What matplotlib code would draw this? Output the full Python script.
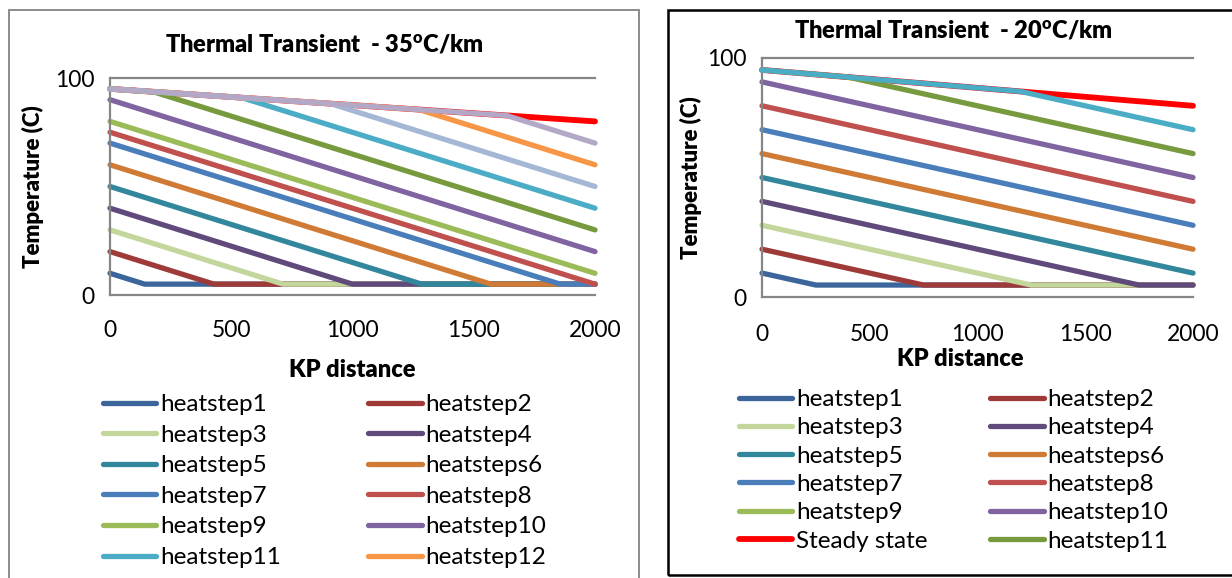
import matplotlib
matplotlib.use("Agg")
import matplotlib.pyplot as plt
from matplotlib.patches import Rectangle

plt.rcParams['font.family'] = ['Lato', 'DejaVu Sans']
plt.rcParams['mathtext.fontset'] = 'custom'
plt.rcParams['mathtext.rm'] = 'Lato'
plt.rcParams['mathtext.bf'] = 'Lato:heavy'

# ---------------- 35 C/km gradient ----------------
labels_35 = ["heatstep1", "heatstep2", "heatstep3", "heatstep4", "heatstep5",
             "heatsteps6", "heatstep7", "heatstep8", "heatstep9", "heatstep10",
             "heatstep11", "heatstep12"]
kp_35 = [[0, 143, 2000], [0, 429, 2000], [0, 714, 2000], [0, 1000, 2000],
         [0, 1286, 2000], [0, 1571, 2000], [0, 1857, 2000], [0, 2000],
         [0, 2000], [0, 2000], [0, 545, 2000], [0, 1273, 2000]]
temp_35 = [[10, 5, 5], [20, 5, 5], [30, 5, 5], [40, 5, 5],
           [50, 5, 5], [60, 5, 5], [70, 5, 5], [75, 5],
           [80, 10], [90, 20], [95, 90.9, 40], [95, 85.5, 60]]
# further steps not listed in the key
extra_kp_35 = [[0, 180, 2000], [0, 909, 2000], [0, 1636, 2000]]
extra_temp_35 = [[95, 93.6, 30], [95, 88.2, 50], [95, 82.7, 70]]
steady_kp_35 = [0, 2000]
steady_temp_35 = [95, 80]

# ---------------- 20 C/km gradient ----------------
labels_20 = ["heatstep1", "heatstep2", "heatstep3", "heatstep4", "heatstep5",
             "heatsteps6", "heatstep7", "heatstep8", "heatstep9", "heatstep10",
             "Steady state", "heatstep11"]
kp_20 = [[0, 250, 2000], [0, 750, 2000], [0, 1250, 2000], [0, 1750, 2000],
         [0, 2000], [0, 2000], [0, 2000], [0, 2000],
         [], [0, 2000], [0, 2000], [0, 400, 2000]]
temp_20 = [[10, 5, 5], [20, 5, 5], [30, 5, 5], [40, 5, 5],
           [50, 10], [60, 20], [70, 30], [80, 40],
           [], [90, 50], [95, 80], [95, 92, 60]]
extra_kp_20 = [[0, 1200, 2000]]
extra_temp_20 = [[95, 86, 70]]

x_ticks = [0, 500, 1000, 1500, 2000]
y_ticks = [0, 100]

# colours
C_HS = ["#3B659B", "#9E3B39", "#C3D69B", "#604A7B", "#33879C",
        "#D07B35", "#4A7EBB", "#C0504D", "#9BBB59", "#8064A2",
        "#4BACC6", "#F79646"]
C_OLIVE = "#779A3E"
C_GREYBLUE = "#A4B7D5"
C_LAVENDER = "#B3A8C6"
C_STEADY = "#FF0000"
GRID = "#868686"

LW = 3.8
W, H = 1232, 578
fig = plt.figure(figsize=(W / 100, H / 100), dpi=100)


def frac(x0, y0, x1, y1):
    return [x0 / W, 1 - y1 / H, (x1 - x0) / W, (y1 - y0) / H]


def style_axes(ax, xpad, ypad):
    ax.set_xlim(0, 2000)
    ax.set_ylim(0, 100)
    ax.set_xticks(x_ticks)
    ax.set_yticks(y_ticks)
    for s in ("right", "top"):
        ax.spines[s].set_visible(False)
    for s in ("left", "bottom"):
        ax.spines[s].set_color(GRID)
        ax.spines[s].set_linewidth(1.6)
    ax.axhline(100, color=GRID, lw=1.6, zorder=0.5, clip_on=False)
    ax.tick_params(axis="both", length=0, labelsize=16.5)
    ax.tick_params(axis="x", pad=xpad)
    ax.tick_params(axis="y", pad=ypad)


def line(ax, x, y, c, z=2, lw=LW):
    return ax.plot(x, y, color=c, lw=lw, solid_capstyle="round",
                   solid_joinstyle="round", zorder=z, clip_on=False)[0]


def key(handles, labels, ax, anchor, spacing, colspacing):
    order = [0, 2, 4, 6, 8, 10, 1, 3, 5, 7, 9, 11]
    ax.legend([handles[i] for i in order], [labels[i] for i in order],
              ncol=2, loc="upper left", bbox_to_anchor=anchor,
              bbox_transform=fig.transFigure, frameon=False, borderpad=0,
              fontsize=17.5, handlelength=2.2, handletextpad=0.15,
              labelspacing=spacing, columnspacing=colspacing,
              borderaxespad=0)


# ---------- left chart ----------
axL = fig.add_axes(frac(110, 78, 595, 295))
style_axes(axL, 18, 11)
line(axL, steady_kp_35, steady_temp_35, C_STEADY, z=1.5, lw=LW + 0.4)
hL = []
for i in range(len(labels_35)):
    hL.append(line(axL, kp_35[i], temp_35[i], C_HS[i], z=2 + i * 0.01))
for j, c in enumerate([C_OLIVE, C_GREYBLUE, C_LAVENDER]):
    line(axL, extra_kp_35[j], extra_temp_35[j], c, z=3 + j * 0.01)
axL.set_ylabel("Temperature (C)", fontsize=16, fontweight="heavy")
axL.yaxis.set_label_coords(-0.137, 0.5)
axL.set_xlabel("KP distance", fontsize=17, fontweight="heavy")
axL.xaxis.set_label_coords(0.5, -0.295)
fig.text(324 / W, 1 - 45 / H, r"Thermal Transient  - 35$^{\mathbf{o}}$C/km",
         ha="center", va="center", fontsize=17, fontweight="heavy")
key(hL, labels_35, axL, (103 / W, 1 - 394 / H), 0.395, 3.6)

# ---------- right chart ----------
axR = fig.add_axes(frac(762, 58, 1193, 297))
style_axes(axR, 19.5, 11)
hR = []
steady_idx = labels_20.index("Steady state")
for i in range(len(labels_20)):
    z = 1.5 if i == steady_idx else 2 + i * 0.01
    c = C_STEADY if i == steady_idx else (C_OLIVE if i == 11 else C_HS[i])
    lw = LW + 0.4 if i == steady_idx else LW
    hR.append(line(axR, kp_20[i], temp_20[i], c, z=z, lw=lw))
for j, c in enumerate([C_HS[10]]):
    line(axR, extra_kp_20[j], extra_temp_20[j], c, z=3 + j * 0.01)
axR.set_ylabel("Temperature (C)", fontsize=16, fontweight="heavy")
axR.yaxis.set_label_coords(-0.14, 0.5)
axR.set_xlabel("KP distance", fontsize=17, fontweight="heavy")
axR.xaxis.set_label_coords(0.46, -0.212)
fig.text(953 / W, 1 - 31 / H, r"Thermal Transient  - 20$^{\mathbf{o}}$C/km",
         ha="center", va="center", fontsize=17, fontweight="heavy")
key(hR, labels_20, axR, (739 / W, 1 - 389 / H), 0.30, 2.58)

# chart frames
fig.patches.append(Rectangle((8.5 / W, -0.05), (639 - 8.5) / W, 1 - 10 / H + 0.05,
                             transform=fig.transFigure, fill=False,
                             edgecolor="#8C8C8C", lw=1.4))
fig.patches.append(Rectangle((668 / W, 1 - 575 / H), 0.5, (575 - 10) / H,
                             transform=fig.transFigure, fill=False,
                             edgecolor="#000000", lw=1.8))

fig.savefig("out.png", dpi=100)
